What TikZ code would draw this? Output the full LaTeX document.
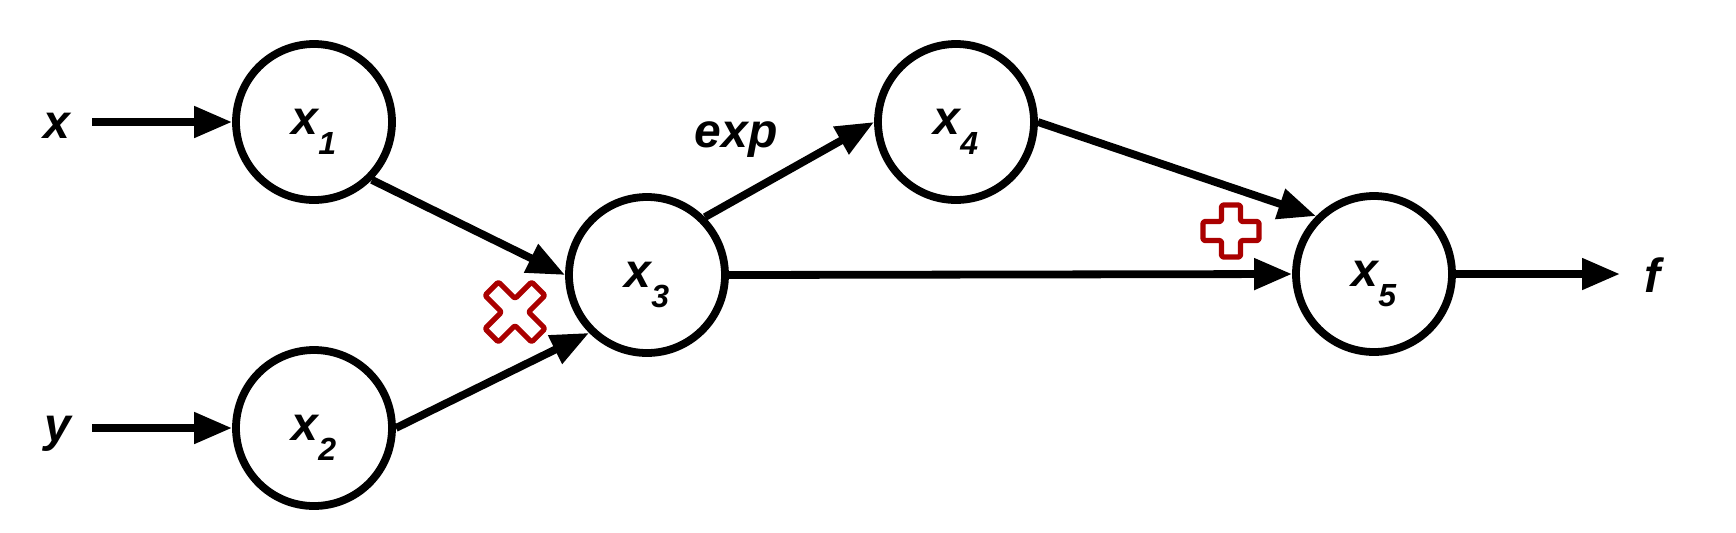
\documentclass[tikz,border=0pt]{standalone}
\usepackage{fontspec}
\setmainfont{Liberation Sans}
\usetikzlibrary{arrows.meta}
\definecolor{markred}{RGB}{170,0,0}
\newcommand\xv[1]{x\smash{\raisebox{-10pt}{\fontsize{16}{16}\selectfont #1}}}
\begin{document}
\begin{tikzpicture}[x=0.5pt,y=-0.5pt,
  lab/.style={font=\fontsize{24}{28}\selectfont\bfseries\itshape, inner sep=0pt},
  vnode/.style={circle, draw, line width=3.9pt, minimum size=78pt, inner sep=0pt, lab},
  arr/.style={line width=3.9pt, -{Triangle[length=19pt,width=15pt]}},
  opmark/.style={draw=markred, line width=2.6pt, fill=white, line join=round, rounded corners=0.8pt}]
\path[use as bounding box] (0,0) rectangle (1736,532);
% nodes
\node[vnode] (x1) at (314,122) {\xv{1}};
\node[vnode] (x2) at (314,428) {\xv{2}};
\node[vnode] (x3) at (647,275) {\xv{3}};
\node[vnode] (x4) at (956,122) {\xv{4}};
\node[vnode] (x5) at (1374,274) {\xv{5}};
\node[lab] (xl) at (57,126) {x};
\node[lab] (yl) at (58,434) {y};
\node[lab] (fl) at (1652,275) {f};
\node[lab] (expl) at (736,140) {exp};
\coordinate (xs) at (92,122);
\coordinate (ys) at (92,428);
\coordinate (fe) at (1620,274);
% connectors
\draw[arr] (xs) -- (x1.west);
\draw[arr] (ys) -- (x2.west);
\draw[arr] (x1.south east) -- (x3.west);
\draw[arr] (x2.east) -- (x3.south west);
\draw[arr] (x3.north east) -- (x4.west);
\draw[arr] (x4.east) -- (x5.north west);
\draw[arr] (x3.east) -- (x5.west);
\draw[arr] (x5.east) -- (fe);
% multiplication mark
\begin{scope}[shift={(515,312)}, rotate=45]
\draw[opmark] (-9.5,-33) -- (9.5,-33) -- (9.5,-9.5) -- (33,-9.5) -- (33,9.5) -- (9.5,9.5) -- (9.5,33) -- (-9.5,33) -- (-9.5,9.5) -- (-33,9.5) -- (-33,-9.5) -- (-9.5,-9.5) -- cycle;
\end{scope}
% plus mark
\begin{scope}[shift={(1231,231)}]
\draw[opmark] (-9.5,-26) -- (9.5,-26) -- (9.5,-9.5) -- (28,-9.5) -- (28,9.5) -- (9.5,9.5) -- (9.5,26) -- (-9.5,26) -- (-9.5,9.5) -- (-28,9.5) -- (-28,-9.5) -- (-9.5,-9.5) -- cycle;
\end{scope}
\end{tikzpicture}
\end{document}
